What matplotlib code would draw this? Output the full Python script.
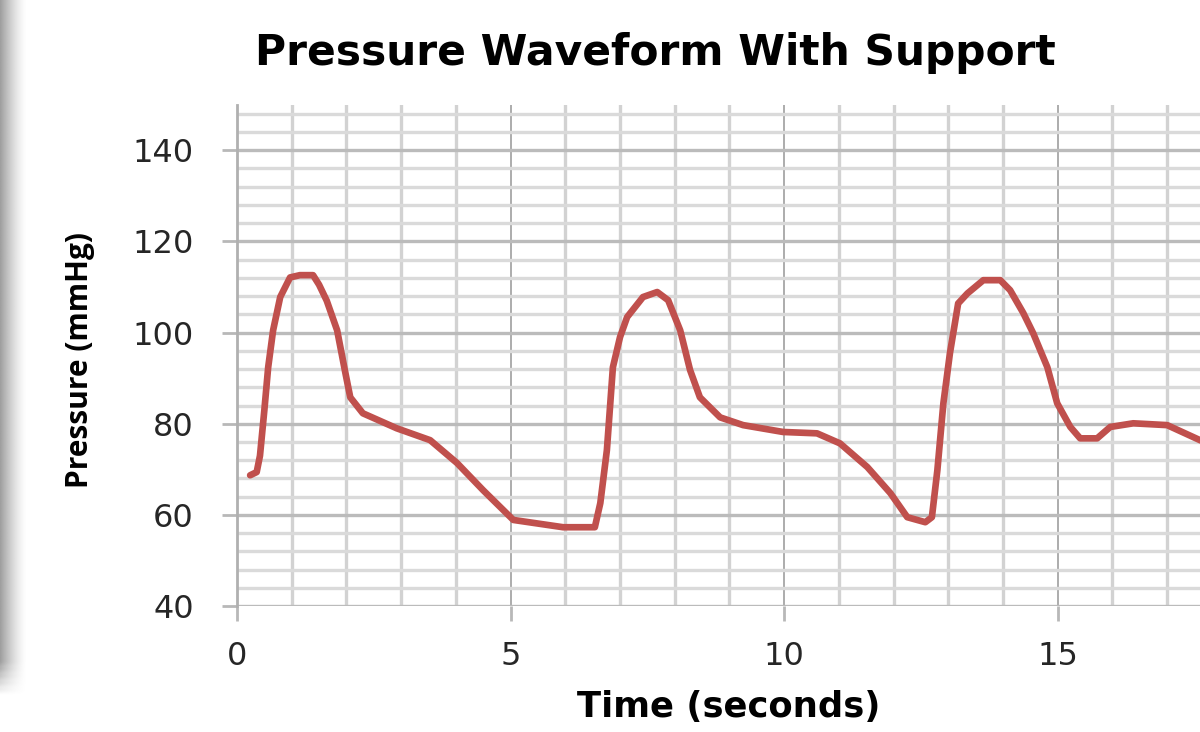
import numpy as np
import matplotlib
matplotlib.use("Agg")
import matplotlib.pyplot as plt
from matplotlib.ticker import MultipleLocator

# Values
time_s = [0.24, 0.36, 0.42, 0.50, 0.57, 0.66, 0.79, 0.97, 1.15, 1.39, 1.50,
          1.64, 1.83, 1.97, 2.07, 2.30, 2.92, 3.53, 4.02, 4.50, 5.05, 5.96,
          6.54, 6.64, 6.76, 6.87, 7.00, 7.13, 7.42, 7.68, 7.88, 8.10, 8.28,
          8.46, 8.83, 9.25, 9.98, 10.60, 11.02, 11.52, 11.94, 12.25, 12.58,
          12.70, 12.80, 12.91, 13.03, 13.18, 13.35, 13.64, 13.95, 14.13,
          14.37, 14.55, 14.81, 14.99, 15.23, 15.41, 15.72, 15.96, 16.38,
          17.00, 17.60, 17.90]
pressure = [68.7, 69.4, 73.0, 83.0, 92.4, 100.5, 107.8, 112.1, 112.6, 112.6,
            110.5, 107.0, 100.5, 91.8, 85.8, 82.3, 79.0, 76.4, 71.4, 65.4,
            58.9, 57.3, 57.3, 62.6, 74.2, 92.4, 99.0, 103.4, 107.8, 108.9,
            107.1, 100.5, 91.8, 85.8, 81.4, 79.7, 78.2, 77.9, 75.7, 70.5,
            64.8, 59.5, 58.4, 59.5, 69.8, 84.5, 95.5, 106.4, 108.6, 111.5,
            111.5, 109.3, 104.3, 99.9, 92.4, 84.5, 79.3, 76.8, 76.8, 79.3,
            80.1, 79.7, 76.4, 75.0]

x_major = [0, 5, 10, 15]
y_major = [40, 60, 80, 100, 120, 140]

fig = plt.figure(figsize=(12, 7.32), dpi=100)

# grey shadow strip along the left edge
shade = fig.add_axes([0, 0.045, 0.022, 0.955])
gx = np.linspace(0, 1, 40)
gy = np.linspace(0, 1, 100)
GX, GY = np.meshgrid(gx, gy)
alpha = (1 - GX) ** 1.4 * np.clip(GY / 0.05, 0, 1)
img = np.ones((100, 40, 4))
img[..., :3] = 0.6
img[..., 3] = alpha * 0.95
shade.imshow(img, aspect="auto", origin="lower", extent=[0, 1, 0, 1])
shade.axis("off")

ax = fig.add_axes([0.1975, 0.172, 0.8025, 0.685])
ax.plot(time_s, pressure, color="#c0504d", lw=4.8,
        solid_joinstyle="round", solid_capstyle="round", zorder=3)

ax.set_xlim(0, 17.6)
ax.set_ylim(40, 150)

ax.xaxis.set_minor_locator(MultipleLocator(1))
ax.yaxis.set_minor_locator(MultipleLocator(4))
ax.set_xticks(x_major)
ax.set_yticks(y_major)
ax.grid(which="minor", axis="x", color="#d2d2d2", lw=2.4, zorder=0)
ax.grid(which="minor", axis="y", color="#dadada", lw=2.4, zorder=0)
ax.grid(which="major", axis="x", color="#a6a6a6", lw=1.3, zorder=1)
ax.grid(which="major", axis="y", color="#bbbbbb", lw=2.4, zorder=1)

for s in ["top", "right", "bottom"]:
    ax.spines[s].set_visible(False)
ax.spines["left"].set_color("#b0b0b0")
ax.spines["left"].set_linewidth(2)

ax.tick_params(which="major", axis="both", direction="out", color="#b8b8b8",
               width=2, length=11, labelsize=23, labelcolor="#262626")
ax.tick_params(which="minor", length=0)
ax.tick_params(axis="y", pad=20)
ax.tick_params(axis="x", pad=14)
for lab in ax.get_xticklabels() + ax.get_yticklabels():
    lab.set_family("DejaVu Sans")

fig.text(0.546, 0.927, "Pressure Waveform With Support", ha="center",
         va="center", fontsize=30.5, fontweight="bold", family="DejaVu Sans")
fig.text(0.6075, 0.034, "Time (seconds)", ha="center", va="center",
         fontsize=25.5, fontweight="bold", family="DejaVu Sans")
fig.text(0.067, 0.508, "Pressure (mmHg)", ha="center", va="center",
         rotation=90, fontsize=21.5, fontweight="bold", family="Open Sans")

fig.savefig("out.png", dpi=100)
